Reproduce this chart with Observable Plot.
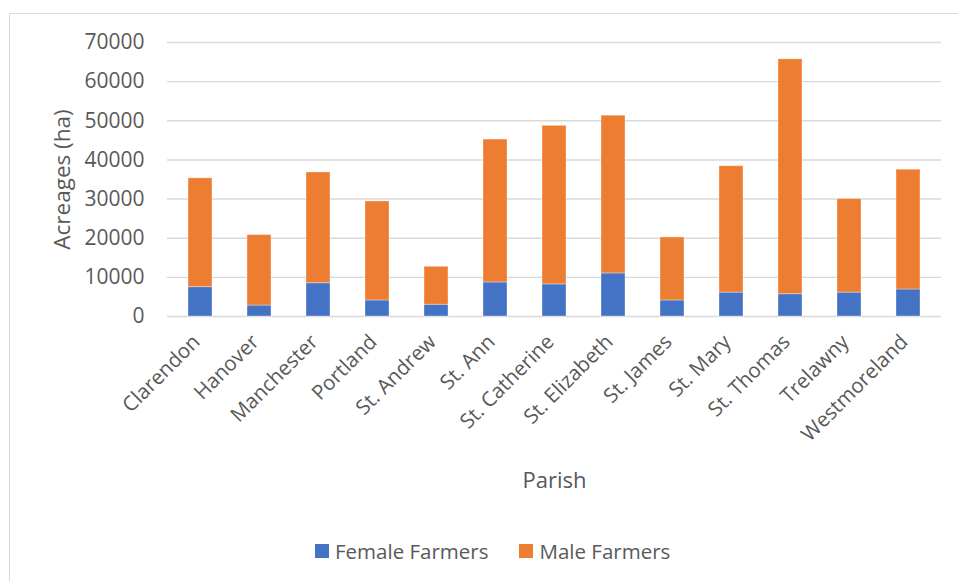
<!DOCTYPE html>
<html>
<head>
<meta charset="utf-8">
<script src="https://cdn.jsdelivr.net/npm/d3@7"></script>
<script src="https://cdn.jsdelivr.net/npm/@observablehq/plot@0.6"></script>
<style>
  html, body { margin: 0; padding: 0; background: #fff; overflow: hidden; }
  body { width: 958px; height: 581px; position: relative; font-family: "Open Sans", sans-serif; }
  #frame { position: absolute; left: 9px; top: 13px; width: 960px; height: 580px; border: 1.5px solid #d9d9d9; box-sizing: border-box; }
  #chart { position: absolute; left: 0; top: 0; }
  #legend { position: absolute; left: 315px; top: 537px; display: flex; align-items: center; color: #595959; font-size: 20.5px; }
  #legend .item { display: flex; align-items: center; margin-right: 31px; }
  #legend .sw { width: 14px; height: 14px; margin-right: 6px; }
</style>
</head>
<body>
<div id="frame"></div>
<div id="chart"></div>
<div id="legend"></div>
<script>
// Parishes along the x axis
const parishes = ["Clarendon", "Hanover", "Manchester", "Portland", "St. Andrew", "St. Ann",
  "St. Catherine", "St. Elizabeth", "St. James", "St. Mary", "St. Thomas", "Trelawny", "Westmoreland"];

// Acreage (ha) farmed by each group, per parish
const femaleAcres = [7500, 2800, 8500, 4100, 3000, 8700, 8200, 11000, 4100, 6100, 5700, 6100, 6900];
const maleAcres = [27800, 18000, 28300, 25300, 9700, 36500, 40500, 40300, 16100, 32300, 60000, 23900, 30600];

const seriesNames = ["Female Farmers", "Male Farmers"];
const seriesColors = ["#4472C4", "#ED7D31"];
const yTicks = [0, 10000, 20000, 30000, 40000, 50000, 60000, 70000];

// Long-format rows for stacking: female at the bottom, male on top
const rows = [];
parishes.forEach((p, i) => {
  rows.push({parish: p, group: seriesNames[0], acres: femaleAcres[i]});
  rows.push({parish: p, group: seriesNames[1], acres: maleAcres[i]});
});

const textColor = "#595959";

const chart = Plot.plot({
  width: 958,
  height: 510,
  marginLeft: 167,
  marginRight: 17,
  marginTop: 42,
  marginBottom: 194,
  style: {fontFamily: "'Open Sans', sans-serif", color: textColor, background: "transparent"},
  x: {domain: parishes, paddingInner: 0.6, paddingOuter: 0.3, label: null},
  y: {domain: [0, 70000], ticks: yTicks, label: null},
  color: {domain: seriesNames, range: seriesColors},
  marks: [
    Plot.gridY(yTicks, {stroke: "#d9d9d9", strokeOpacity: 1, strokeWidth: 1.4}),
    Plot.barY(rows, {x: "parish", y: "acres", fill: "group", stroke: "#ffffff", strokeOpacity: 0.35, strokeWidth: 1}),
    Plot.axisY(yTicks, {tickSize: 0, tickPadding: 23, fontSize: 21, tickFormat: d3.format("d"), label: null, fill: textColor}),
    Plot.axisX({tickRotate: -45, tickSize: 0, tickPadding: 8, dx: -4, dy: 14, fontSize: 20.5, label: null, fill: textColor}),
    Plot.text(["Acreages (ha)"], {frameAnchor: "left", dx: -105, rotate: -90, fontSize: 22.5, fill: textColor, textAnchor: "middle", lineAnchor: "middle"}),
    Plot.text(["Parish"], {frameAnchor: "bottom", dy: 164, fontSize: 22, fill: textColor, lineAnchor: "middle"})
  ]
});
document.getElementById("chart").appendChild(chart);

// Legend below the chart
const legend = document.getElementById("legend");
seriesNames.forEach((name, i) => {
  const item = document.createElement("div");
  item.className = "item";
  const sw = document.createElement("span");
  sw.className = "sw";
  sw.style.background = seriesColors[i];
  const label = document.createElement("span");
  label.textContent = name;
  item.appendChild(sw);
  item.appendChild(label);
  legend.appendChild(item);
});
</script>
</body>
</html>
